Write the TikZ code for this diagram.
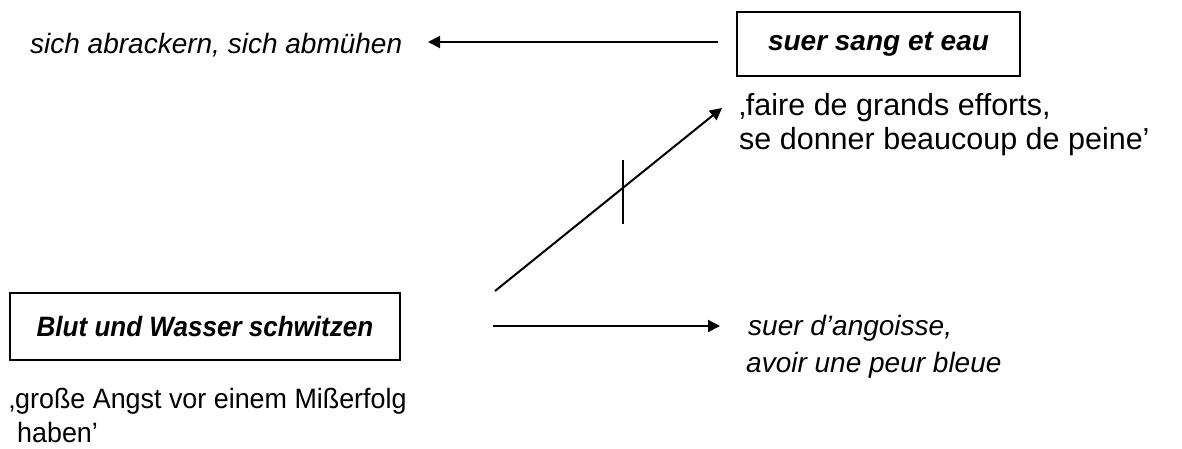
\documentclass[tikz,border=0pt]{standalone}
\usepackage{fontspec}
\setmainfont{Liberation Sans}
\usetikzlibrary{arrows.meta}
\begin{document}
\begin{tikzpicture}[x=1pt,y=-1pt,
  lbl/.style={font=\fontsize{28}{35}\selectfont, inner sep=0pt, align=left},
  itl/.style={lbl, font=\fontsize{28}{37}\selectfont\itshape},
  boxed/.style={draw, line width=1.5pt, font=\fontsize{28}{35}\selectfont\bfseries\itshape, inner sep=0pt},
  conn/.style={line width=2pt, -{Triangle[length=12pt,width=12pt]}}]
\useasboundingbox (0,0) rectangle (1182,448);
\node[boxed, minimum width=283pt, minimum height=64pt] (sang) at (878.5,44) {suer sang et eau};
\node[itl, anchor=base west] (abr) at (30,53) {sich abrackern, sich abmühen};
\node[lbl, anchor=north west, font=\fontsize{30.5}{34}\selectfont] (faire) at (739,93) {‚faire de grands efforts,\\se donner beaucoup de peine’};
\node[boxed, minimum width=390pt, minimum height=67pt] (blut) at (205,326.5) {\addfontfeature{FakeStretch=0.93}Blut und Wasser schwitzen};
\node[itl, anchor=north west] (ang) at (746,315) {\hspace{2pt}suer d’angoisse,\\avoir une peur bleue};
\node[lbl, anchor=north west, font=\fontsize{28}{34}\selectfont\addfontfeature{FakeStretch=0.96}] (gross) at (9,388) {‚große Angst vor einem Mißerfolg\\\hspace{8pt}haben’};
\coordinate (a1) at (718,42);
\coordinate (a2) at (493,326);
\coordinate (a3) at (495,291);
\coordinate (tipA) at (428,42);
\coordinate (tipB) at (720,326);
\coordinate (tipC) at (722,108);
\coordinate (t1) at (623,160);
\coordinate (t2) at (623,224);
\draw[conn] (a1) -- (tipA);
\draw[conn] (a2) -- (tipB);
\draw[conn] (a3) -- (tipC);
\draw[line width=2pt] (t1) -- (t2);
\end{tikzpicture}
\end{document}
